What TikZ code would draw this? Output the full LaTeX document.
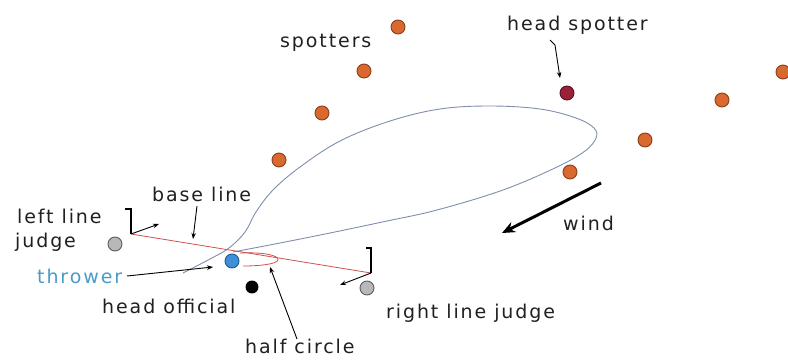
\documentclass[tikz,border=0pt]{standalone}
\usepackage{fontspec}
\setmainfont{DejaVu Sans}[LetterSpace=10]
\usetikzlibrary{arrows.meta}
\definecolor{spotfill}{HTML}{D9692F}
\definecolor{spotline}{HTML}{8A3E1C}
\definecolor{hsfill}{HTML}{9A2238}
\definecolor{hsline}{HTML}{5A1020}
\definecolor{judgefill}{HTML}{B8B8B8}
\definecolor{judgeline}{HTML}{5E5E5E}
\definecolor{throwfill}{HTML}{3D8FD6}
\definecolor{throwline}{HTML}{1F5A90}
\definecolor{loopcol}{HTML}{7F8FAA}
\definecolor{basecol}{HTML}{D05050}
\definecolor{txtcol}{HTML}{202020}
\definecolor{throwtxt}{HTML}{4A9CC8}
\begin{document}
\begin{tikzpicture}[x=1pt,y=-1pt,
  lbl/.style={inner sep=0pt, anchor=base west, font=\fontsize{19}{23}\selectfont, text=txtcol},
  dot/.style={circle, inner sep=0pt, minimum size=14pt, line width=0.9pt},
  spotter/.style={dot, fill=spotfill, draw=spotline},
  headspot/.style={dot, fill=hsfill, draw=hsline},
  judge/.style={dot, fill=judgefill, draw=judgeline},
  pointer/.style={draw=black, line width=0.9pt, -{Stealth[length=6pt,width=4.5pt]}},
  marker/.style={draw=black, line width=1.1pt}]
\useasboundingbox (0,0) rectangle (788,362);

% spotters
\node[spotter] (s1) at (398,27) {};
\node[spotter] (s2) at (364,71) {};
\node[spotter] (s3) at (322,113) {};
\node[spotter] (s4) at (279,160) {};
\node[spotter] (s5) at (570,172) {};
\node[spotter] (s6) at (645,140) {};
\node[spotter] (s7) at (722,100) {};
\node[spotter] (s8) at (783,72) {};
\node[headspot] (hs) at (567,93) {};

% loop
\draw[loopcol, line width=0.9pt] plot[smooth, tension=0.6] coordinates {
 (183,273) (210,259) (229,248) (245,232) (256,212) (273,190) (300,167) (340,141)
 (390,121) (440,109) (490,106) (540,109) (576,118) (594,128) (596,138) (585,151)
 (557,167) (503,190) (437,210) (387,221) (330,233) (280,243) (233,252)};

% base line and markers
\coordinate (lm) at (131,234);
\coordinate (rm) at (371,273);
\draw[basecol, line width=0.8pt] (lm) -- (rm);
\draw[marker] (125,209) -- (131,209) -- (lm);
\draw[marker] (366,248) -- (371,248) -- (rm);
\coordinate (lmtip) at (159,224);
\coordinate (rmtip) at (340,285);
\draw[pointer] (lm) -- (lmtip);
\draw[pointer] (rm) -- (rmtip);

% half circle
\draw[basecol, line width=0.8pt] (240,253) .. controls (262,252) and (279,255) .. (278,260)
  .. controls (277,264) and (260,266) .. (243,266);

% judges, thrower, head official
\node[judge] (lj) at (115,244) {};
\node[judge] (rj) at (367,288) {};
\node[dot, fill=throwfill, draw=throwline] (thr) at (232,261) {};
\node[dot, fill=black, draw=black, minimum size=12pt] (ho) at (252,287) {};

% wind
\coordinate (w1) at (601,183);
\coordinate (w2) at (502,233);
\draw[line width=3pt, -{Stealth[length=13pt,width=11pt]}] (w1) -- (w2);

% labels
\node[lbl] (tspot) at (280,47) {spotters};
\node[lbl] (thead) at (507,30) {head spotter};
\node[lbl] (twind) at (563,230) {wind};
\node[lbl] (tbase) at (152,201) {base line};
\node[lbl] (tleft) at (17,223) {left line};
\node[lbl] (tjudge) at (15,247) {judge};
\node[lbl, text=throwtxt] (tthr) at (37,283) {thrower};
\node[lbl] (toff) at (102,313) {head official};
\node[lbl] (tright) at (386,318) {right line judge};
\node[lbl] (thalf) at (245,353) {half circle};

% pointers
\coordinate (hsA) at (550,40);
\coordinate (hsB) at (560,78);
\draw[pointer] (hsA) -- (555,45) -- (hsB);
\coordinate (blA) at (197,206);
\coordinate (blB) at (193,239);
\draw[pointer] (blA) -- (blB);
\coordinate (thA) at (127,276);
\coordinate (thB) at (213,267);
\draw[pointer] (thA) -- (thB);
\coordinate (hcA) at (297,339);
\coordinate (hcB) at (270,267);
\draw[pointer] (hcA) -- (hcB);
\end{tikzpicture}
\end{document}
